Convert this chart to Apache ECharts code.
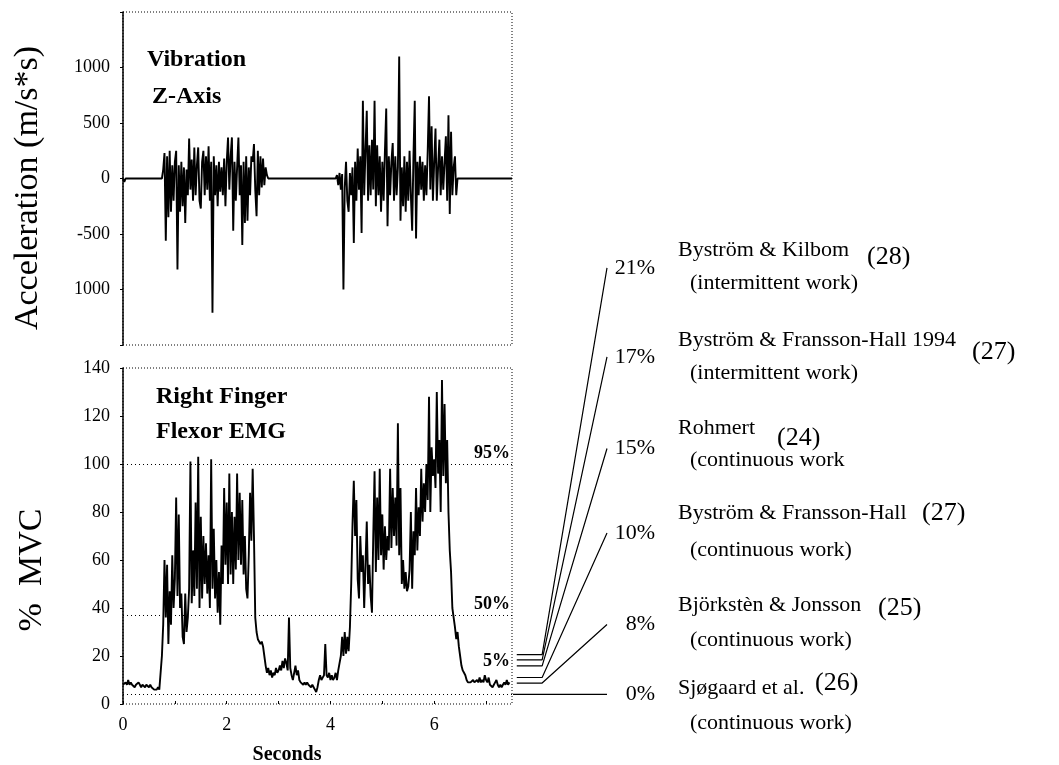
<!DOCTYPE html>
<html>
<head>
<meta charset="utf-8">
<script src="https://cdn.jsdelivr.net/npm/echarts@6/dist/echarts.min.js"></script>
<style>
  html, body { margin: 0; padding: 0; background: #fff; }
  #chart { width: 1059px; height: 765px; }
</style>
</head>
<body>
<div id="chart"></div>
<script>
const SERIF = '"Liberation Serif", "Times New Roman", serif'

// both traces are sampled every STEP seconds, starting at 0 s
const STEP = 0.025

// vibration, z-axis (m/s*s)
const vibration = [
  0, -30, 0, 0, 0, 0, 0, 0, 0, 0,
  0, 0, 0, 0, 0, 0, 0, 0, 0, 0,
  0, 0, 0, 0, 0, 0, 0, 0, 0, 0,
  0, 80, 230, -560, 200, -350, 250, -300, 120, -200,
  150, 250, -820, 120, -300, 150, -250, 100, -400, 80,
  -150, 360, -100, 170, -200, 280, -150, 120, 280, -200,
  -270, 150, 250, -150, 200, -100, 290, -200, 150, -1210,
  200, -150, 120, -250, 150, -120, 100, -150, 180, -250,
  150, 370, -100, 200, 370, -470, 150, -200, 100, 370,
  -150, 120, -600, 150, -400, 200, -380, 100, -150, 200,
  150, 310, -100, -340, 250, -150, 200, -80, 180, -60,
  100, 30, 0, 0, 0, 0, 0, 0, 0, 0,
  0, 0, 0, 0, 0, 0, 0, 0, 0, 0,
  0, 0, 0, 0, 0, 0, 0, 0, 0, 0,
  0, 0, 0, 0, 0, 0, 0, 0, 0, 0,
  0, 0, 0, 0, 0, 0, 0, 0, 0, 0,
  0, 0, 0, 0, 0, 30, -60, 50, -100, 40,
  -1000, -80, 150, -200, -300, 50, -150, 100, -580, 150,
  -200, 270, -100, 200, -490, 700, -150, 250, 610, -200,
  300, -150, 350, -100, 700, -250, 300, -150, 200, -300,
  150, -200, 250, 630, -430, 200, -150, 150, 320, -200,
  200, -150, 100, 1100, -380, 100, -250, 200, -300, 150,
  -200, 250, -150, -470, 200, 700, -540, 150, -150, 200,
  -100, 150, -200, 120, -150, 250, 740, -100, 470, -200,
  150, 450, -200, 100, 350, -150, 200, -100, 150, 380,
  -200, 570, -320, 420, -150, 100, 200, -150, 0, 0,
  0, 0, 0, 0, 0, 0, 0, 0, 0, 0,
  0, 0, 0, 0, 0, 0, 0, 0, 0, 0,
  0, 0, 0, 0, 0, 0, 0, 0, 0, 0,
  0, 0, 0, 0, 0, 0, 0, 0, 0, 0,
  0
]

// right finger flexor EMG (% MVC)
const emg = [
  8, 8, 9, 8, 10, 8, 9, 8, 8, 7,
  8, 8, 9, 8, 7, 8, 8, 7, 8, 8,
  7, 8, 7, 7, 6, 6, 6, 7, 6, 6,
  20, 33, 60, 36, 58, 25, 47, 33, 62, 40,
  52, 86, 45, 79, 40, 46, 28, 25, 46, 30,
  36, 48, 101, 42, 64, 45, 84, 48, 103, 40,
  78, 44, 70, 50, 67, 46, 62, 40, 102, 48,
  73, 44, 60, 38, 55, 33, 66, 50, 90, 58,
  84, 50, 96, 54, 80, 50, 78, 56, 96, 60,
  88, 58, 85, 54, 70, 48, 44, 62, 88, 68,
  98, 70, 36, 30, 27, 27, 25, 26, 24, 20,
  16, 13, 15, 12, 14, 11, 13, 12, 15, 13,
  14, 16, 14, 18, 15, 19, 17, 14, 36, 15,
  12, 10, 13, 16, 12, 14, 10, 9, 9, 8,
  9, 8, 9, 8, 8, 7, 8, 7, 6, 5,
  7, 10, 12, 10, 11, 12, 25, 12, 11, 13,
  10, 12, 10, 11, 13, 10, 14, 17, 20, 28,
  20, 30, 21, 28, 22, 32, 50, 75, 93, 70,
  85, 52, 44, 70, 55, 62, 40, 58, 76, 50,
  58, 45, 38, 70, 97, 55, 86, 60, 98, 62,
  79, 56, 74, 60, 70, 64, 98, 65, 90, 70,
  86, 66, 117, 62, 90, 50, 60, 48, 55, 47,
  49, 56, 80, 48, 72, 62, 90, 64, 82, 70,
  98, 76, 92, 80, 100, 85, 128, 80, 107, 95,
  102, 90, 130, 96, 110, 80, 135, 95, 125, 92,
  110, 80, 64, 55, 40, 36, 32, 27, 30, 24,
  20, 16, 14, 13, 12, 10, 9, 9, 9, 9,
  10, 9, 9, 10, 9, 11, 9, 10, 9, 12,
  10, 9, 11, 8, 8, 7, 8, 9, 10, 8,
  7, 8, 7, 8, 9, 8, 10, 8, 9
]

const topTicks = [1000, 500, 0, -500, -1000]
const topTickLabels = ['1000', '500', '0', '-500', '1000']
const secTickLabels = ['0', '', '2', '', '4', '', '6', '']

const refLevels = [100, 37, 4]
const refLabels = ['95%', '50%', '5%']

// literature thresholds drawn to the right of the EMG panel
const studyPct = ['21%', '17%', '15%', '10%', '8%', '0%']
const studyFrom = [20.5, 18.3, 15.8, 11, 8.7, 4]
const studyTo = [181, 144, 106, 71, 33, 4]
const studyName = ['Byström & Kilbom', 'Byström & Fransson-Hall 1994', 'Rohmert',
  'Byström & Fransson-Hall', 'Björkstèn & Jonsson', 'Sjøgaard et al.']
const studyRef = ['(28)', '(27)', '(24)', '(27)', '(25)', '(26)']
const studyWork = ['(intermittent work)', '(intermittent work)', '(continuous work',
  '(continuous work)', '(continuous work)', '(continuous work)']

const nameY = [250, 340, 428, 513, 605, 688]
const refX = [867, 972, 777, 922, 878, 815]
const refY = [257, 352, 438, 513, 608, 683]
const workY = [283, 373, 460, 550, 640, 723]

function text(x, y, str, size, opts) {
  opts = opts || {}
  const align = opts.align || 'left'
  return {
    type: 'text',
    x: x,
    y: y,
    rotation: opts.rotation || 0,
    silent: true,
    style: {
      text: str,
      fill: '#000',
      font: (opts.bold ? 'bold ' : '') + size + 'px ' + SERIF,
      textAlign: align,
      textVerticalAlign: 'middle',
      align: align,
      verticalAlign: 'middle'
    }
  }
}

const frame = { show: true, borderColor: '#000', borderWidth: 1, borderType: [1, 2], backgroundColor: 'transparent' }

const yLabel = { color: '#000', fontFamily: SERIF, fontSize: 18, margin: 13 }

const graphics = [
  text(147, 60, 'Vibration', 24, { bold: true }),
  text(152, 97, 'Z-Axis', 24, { bold: true }),
  text(156, 397, 'Right Finger', 24, { bold: true }),
  text(156, 432, 'Flexor EMG', 24, { bold: true }),
  text(287, 755, 'Seconds', 20, { bold: true, align: 'center' }),
  text(28, 188, 'Acceleration (m/s*s)', 34, { align: 'center', rotation: Math.PI / 2 }),
  text(32, 570, '%  MVC', 34, { align: 'center', rotation: Math.PI / 2 })
]
studyName.forEach(function (name, k) {
  graphics.push(text(678, nameY[k], name, 22))
  graphics.push(text(refX[k], refY[k], studyRef[k], 26))
  graphics.push(text(690, workY[k], studyWork[k], 22))
})

const leaders = studyPct.map(function (pct, k) {
  const start = studyFrom[k] === studyTo[k] ? 0 : 0.04
  return {
    type: 'line',
    xAxisIndex: 2,
    yAxisIndex: 2,
    symbol: 'none',
    silent: true,
    lineStyle: { color: '#000', width: 1.2 },
    data: [[start, studyFrom[k]], [0.31, studyFrom[k]], [1, studyTo[k]]]
  }
})

const chart = echarts.init(document.getElementById('chart'))
chart.setOption({
  animation: false,
  backgroundColor: '#fff',
  grid: [
    Object.assign({ left: 123, top: 12, width: 389, height: 333, outerBoundsMode: 'none' }, frame),
    Object.assign({ left: 123, top: 368, width: 389, height: 336, outerBoundsMode: 'none' }, frame),
    { left: 513, top: 222, width: 94, height: 482, outerBoundsMode: 'none' }
  ],
  xAxis: [
    {
      gridIndex: 0, type: 'value', min: 0, max: 7.5, interval: 1,
      axisLine: { show: false }, axisTick: { show: false }, axisLabel: { show: false }, splitLine: { show: false }
    },
    {
      gridIndex: 1, type: 'value', min: 0, max: 7.5, interval: 1,
      axisLine: { show: false },
      axisTick: { show: true, inside: true, length: 3, lineStyle: { color: '#000' } },
      axisLabel: {
        color: '#000', fontFamily: SERIF, fontSize: 18, margin: 12, showMaxLabel: false,
        formatter: function (v) { return secTickLabels[Math.round(v)] || '' }
      },
      splitLine: { show: false }
    },
    { gridIndex: 2, type: 'value', min: 0, max: 1, show: false }
  ],
  yAxis: [
    {
      gridIndex: 0, type: 'value', min: -1500, max: 1500, interval: 500,
      axisLine: { show: true, lineStyle: { color: '#000', width: 1.5 } },
      axisTick: { show: true, length: 3, lineStyle: { color: '#000' } },
      axisLabel: Object.assign({
        formatter: function (v) {
          const k = topTicks.indexOf(v)
          return k < 0 ? '' : topTickLabels[k]
        }
      }, yLabel),
      splitLine: { show: false }
    },
    {
      gridIndex: 1, type: 'value', min: 0, max: 140, interval: 20,
      axisLine: { show: true, lineStyle: { color: '#000', width: 1.5 } },
      axisTick: { show: true, length: 3, lineStyle: { color: '#000' } },
      axisLabel: yLabel,
      splitLine: { show: false }
    },
    { gridIndex: 2, type: 'value', min: 0, max: 200, show: false }
  ],
  graphic: { elements: graphics },
  series: [
    {
      type: 'line',
      xAxisIndex: 0,
      yAxisIndex: 0,
      symbol: 'none',
      silent: true,
      lineStyle: { color: '#000', width: 1.9 },
      data: vibration.map(function (v, i) { return [i * STEP, v] })
    },
    {
      type: 'line',
      xAxisIndex: 1,
      yAxisIndex: 1,
      symbol: 'none',
      silent: true,
      lineStyle: { color: '#000', width: 1.9 },
      data: emg.map(function (v, i) { return [i * STEP, v] }),
      markLine: {
        silent: true,
        symbol: 'none',
        animation: false,
        lineStyle: { color: '#000', type: [1, 3], width: 1.2 },
        label: {
          position: 'insideEndTop', distance: 2, color: '#000',
          fontFamily: SERIF, fontWeight: 'bold', fontSize: 18
        },
        data: refLevels.map(function (v, k) {
          return {
            yAxis: v,
            label: { formatter: refLabels[k], padding: k === 2 ? [0, 0, 22, 0] : 0 }
          }
        })
      }
    },
    {
      type: 'scatter',
      xAxisIndex: 2,
      yAxisIndex: 2,
      symbolSize: 0,
      silent: true,
      itemStyle: { color: '#000', opacity: 1 },
      label: {
        show: true,
        position: [48, 0],
        align: 'right',
        verticalAlign: 'middle',
        color: '#000',
        opacity: 1,
        fontFamily: SERIF,
        fontSize: 22,
        formatter: function (p) { return studyPct[p.dataIndex] }
      },
      data: studyTo.map(function (v) { return [1, v] })
    }
  ].concat(leaders)
})
</script>
</body>
</html>
